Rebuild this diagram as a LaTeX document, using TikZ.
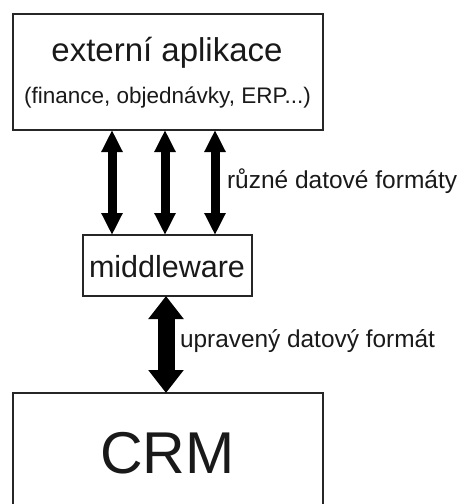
\documentclass[tikz,border=0pt]{standalone}
\usepackage{fontspec}
\setmainfont{Liberation Sans}
\usetikzlibrary{arrows.meta}
\begin{document}
\begin{tikzpicture}[x=1pt,y=-1pt,
  box/.style={draw=black!85,line width=1.7pt,rectangle,inner sep=0pt,outer sep=0pt},
  lbl/.style={inner sep=0pt,outer sep=0pt,text=black!90},
  thinarrow/.style={line width=9pt,
    {Triangle[width=20pt,length=22pt]}-{Triangle[width=20pt,length=22pt]}},
  thickarrow/.style={line width=17pt,
    {Triangle[width=34pt,length=23pt]}-{Triangle[width=34pt,length=23pt]}}]
  \useasboundingbox (0,0) rectangle (460,504);

  % boxes
  \node[box,minimum width=310pt,minimum height=116pt] (apps) at (168,72) {};
  \node[box,minimum width=169pt,minimum height=61pt] (mw) at (167.5,265.5) {};
  \node[box,minimum width=310pt,minimum height=130pt] (crm) at (168,458) {};

  % texts
  \node[lbl,anchor=base] (appsT) at (167,61) {\fontsize{33}{38}\selectfont externí aplikace};
  \node[lbl,anchor=base] (appsS) at (167.5,103) {\fontsize{22.5}{26}\selectfont (finance, objednávky, ERP...)};
  \node[lbl,anchor=base] (mwT) at (167,277) {\fontsize{30.5}{35}\selectfont middleware};
  \node[lbl,anchor=base] (crmT) at (167.5,473) {\fontsize{59}{66}\selectfont CRM};
  \node[lbl,anchor=base west] (fmts) at (227,188) {\fontsize{24.5}{28}\selectfont různé datové formáty};
  \node[lbl,anchor=base west] (fmt) at (180,347) {\fontsize{24.4}{28}\selectfont upravený datový formát};

  % arrow positions
  \coordinate (c1) at (112,0);
  \coordinate (c2) at (165,0);
  \coordinate (c3) at (215,0);
  \coordinate (c4) at (166,0);

  % connectors
  \draw[thinarrow] (apps.south -| c1) -- (mw.north -| c1);
  \draw[thinarrow] (apps.south -| c2) -- (mw.north -| c2);
  \draw[thinarrow] (apps.south -| c3) -- (mw.north -| c3);
  \draw[thickarrow] (mw.south -| c4) -- (crm.north -| c4);
\end{tikzpicture}
\end{document}
